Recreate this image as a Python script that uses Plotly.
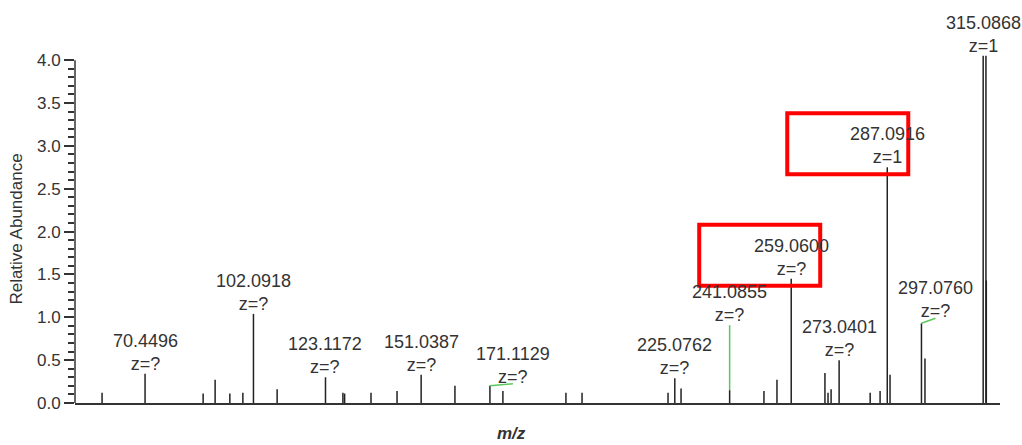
import plotly.graph_objects as go

# ---- data ----
peak_mz = [57.9, 70.4496, 87.4, 90.9, 95.2, 99.0, 102.0918, 109.0, 123.1172,
           128.2, 128.7, 136.4, 144.0, 151.0387, 160.9, 171.1129, 174.9,
           193.3, 198.0, 223.1, 225.0762, 226.9, 241.0855, 251.1, 254.9,
           259.0600, 268.9, 269.8, 270.7, 273.0401, 282.1, 285.0, 287.0916,
           287.9, 297.0760, 298.1, 315.0868, 315.9, 316.0]
peak_int = [0.12, 0.34, 0.11, 0.27, 0.11, 0.12, 1.04, 0.16, 0.30,
            0.12, 0.11, 0.12, 0.14, 0.33, 0.20, 0.20, 0.14,
            0.12, 0.12, 0.12, 0.29, 0.17, 0.15, 0.14, 0.27,
            1.45, 0.35, 0.12, 0.16, 0.50, 0.12, 0.14, 2.75,
            0.33, 0.93, 0.52, 4.05, 4.05, 1.43]

label_mz = [70.4496, 102.0918, 123.1172, 151.0387, 171.1129, 225.0762,
            241.0855, 259.0600, 273.0401, 287.0916, 297.0760, 315.0868]
label_z = ["?", "?", "?", "?", "?", "?", "?", "?", "?", "1", "?", "1"]

highlighted = [259.0600, 287.0916]

y_ticks = [0.0, 0.5, 1.0, 1.5, 2.0, 2.5, 3.0, 3.5, 4.0]

# ---- styling ----
FONT = "Liberation Sans, Arial, sans-serif"
TXT = "#333333"
GREEN = "#5cc85c"
# pixel offsets for displaced labels: (dx, dy) of the label relative to its peak
label_offsets = {171.1129: (23, -1), 297.0760: (14, 2), 241.0855: (0, 65)}

xs, ys = [], []
for m, h in zip(peak_mz, peak_int):
    xs += [m, m, None]
    ys += [0, h, None]

fig = go.Figure()
fig.add_trace(go.Scatter(x=xs, y=ys, mode="lines",
                         line=dict(color="#222222", width=1.5),
                         hoverinfo="skip", showlegend=False))

height_of = dict(zip(peak_mz, peak_int))
annotations = []
shapes = []
for m, z in zip(label_mz, label_z):
    h = height_of[m]
    dx, dy = label_offsets.get(m, (0, 0))
    annotations.append(dict(
        x=m, y=h, xref="x", yref="y", text=f"{m:.4f}<br>z={z}",
        showarrow=False, xanchor="center", yanchor="bottom",
        xshift=dx, yshift=dy - 2, font=dict(family=FONT, size=18, color=TXT)))
    if m in label_offsets:
        shapes.append(dict(type="line", xref="x", yref="y",
                           xsizemode="pixel", ysizemode="pixel",
                           xanchor=m, yanchor=h, x0=0, y0=0,
                           x1=dx, y1=dy if dx == 0 else dy + 3,
                           line=dict(color=GREEN, width=1.5), layer="above"))

for m in highlighted:
    h = height_of[m]
    x0 = -100 if m == 287.0916 else -92
    shapes.append(dict(type="rect", xref="x", yref="y",
                       xsizemode="pixel", ysizemode="pixel",
                       xanchor=m, yanchor=h, x0=x0, x1=x0 + 121, y0=-7, y1=54,
                       line=dict(color="#ff0000", width=4), layer="above"))

# y axis line only up to the top tick
shapes.append(dict(type="line", xref="paper", yref="y", x0=0, x1=0,
                   y0=y_ticks[0], y1=y_ticks[-1],
                   line=dict(color=TXT, width=1.5), layer="below"))

annotations.append(dict(x=0.4714, y=-0.089, xref="paper", yref="paper",
                        text="<b><i>m/z</i></b>", showarrow=False,
                        xanchor="center", yanchor="middle",
                        font=dict(family=FONT, size=17, color=TXT)))

fig.update_layout(
    width=1022, height=445,
    margin=dict(l=75, r=22, t=55, b=42),
    paper_bgcolor="white", plot_bgcolor="white",
    font=dict(family=FONT, color=TXT),
    annotations=annotations, shapes=shapes,
    xaxis=dict(range=[50, 320], showgrid=False, zeroline=False,
               showline=True, linecolor=TXT, linewidth=1.5,
               showticklabels=False, ticks=""),
    yaxis=dict(range=[0, 4.06], showgrid=False, zeroline=False,
               showline=False, tickvals=y_ticks, tickformat=".1f",
               ticks="outside", ticklen=10, tickwidth=1.5, tickcolor=TXT,
               tickfont=dict(family=FONT, size=17, color=TXT),
               minor=dict(dtick=0.1, ticks="outside", ticklen=6,
                          tickwidth=1.5, tickcolor=TXT, showgrid=False),
               title=dict(text="Relative Abundance", standoff=10,
                          font=dict(family=FONT, size=17, color=TXT))),
)

fig.write_html("out.html",
               config={"displayModeBar": False},
               post_script="document.body.style.margin='0px';"
                           "document.body.style.overflow='hidden';")
